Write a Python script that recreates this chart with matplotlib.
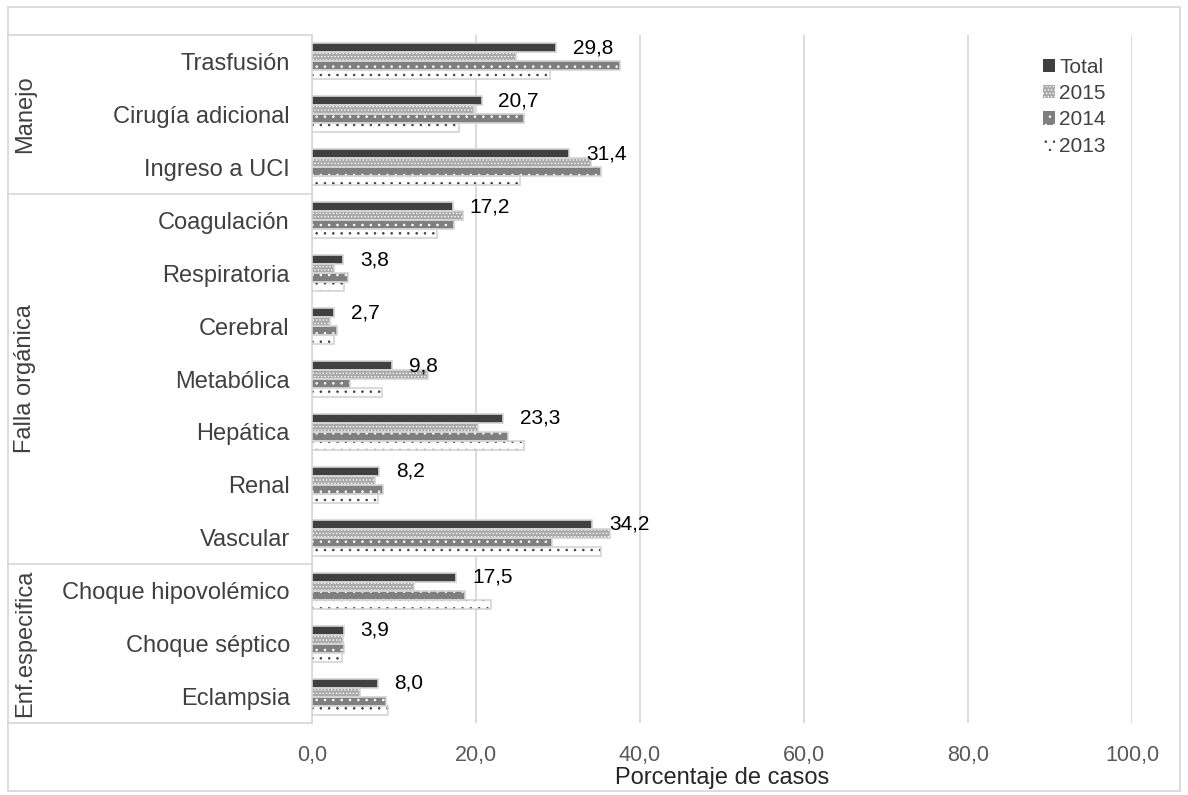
import matplotlib
matplotlib.use("Agg")
import matplotlib.pyplot as plt
import matplotlib.transforms as mtransforms
from matplotlib.patches import Rectangle, Patch
from matplotlib.lines import Line2D
from matplotlib.ticker import FuncFormatter
import numpy as np

plt.rcParams["font.family"] = ["Liberation Sans", "DejaVu Sans"]
plt.rcParams["hatch.linewidth"] = 0.6

# Categories (top to bottom) and their groups
categories = ["Trasfusión", "Cirugía adicional", "Ingreso a UCI",
              "Coagulación", "Respiratoria", "Cerebral", "Metabólica",
              "Hepática", "Renal", "Vascular",
              "Choque hipovolémico", "Choque séptico", "Eclampsia"]
groups = ["Manejo", "Falla orgánica", "Enf.especifica"]
group_sizes = [3, 7, 3]

# Percentages per series
total = [29.8, 20.7, 31.4, 17.2, 3.8, 2.7, 9.8, 23.3, 8.2, 34.2, 17.5, 3.9, 8.0]
y2015 = [24.9, 19.7, 34.0, 18.4, 2.7, 2.2, 14.2, 20.3, 7.7, 36.3, 12.4, 3.8, 5.8]
y2014 = [37.5, 25.9, 35.3, 17.3, 4.4, 3.1, 4.6, 23.9, 8.7, 29.3, 18.7, 3.9, 9.0]
y2013 = [29.0, 17.9, 25.4, 15.3, 3.9, 2.7, 8.5, 25.9, 8.0, 35.3, 21.8, 3.6, 9.3]

series_names = ["Total", "2015", "2014", "2013"]
series_values = [total, y2015, y2014, y2013]
xticks = [0, 20, 40, 60, 80, 100]

# Appearance of each series: face colour, hatch, hatch colour
styles = [
    ("#404040", None, "#404040"),
    ("#a9a9a9", ".....", "#ffffff"),
    ("#7f7f7f", "..", "#ffffff"),
    ("#ffffff", "..", "#404040"),
]
outline = "#d4d4d4"
grid_c = "#d9d9d9"

W, H = 1188, 795
fig = plt.figure(figsize=(W / 100, H / 100), dpi=100)
ax = fig.add_axes([312 / W, 1 - 723 / H, (1132 - 312) / W, (723 - 35) / H])

n = len(categories)
y = np.arange(n)
bar_h = 0.17
offsets = np.array([-1.5, -0.5, 0.5, 1.5]) * bar_h

for vals, off, (fc, hatch, hc) in zip(series_values, offsets, styles):
    ax.barh(y + off, vals, height=bar_h, color=fc, edgecolor=hc,
            linewidth=0, hatch=hatch, zorder=3)
    ax.barh(y + off, vals, height=bar_h, fill=False, edgecolor=outline,
            linewidth=1.2, zorder=4)

# Value labels for the Total series
for yi, v in zip(y, total):
    ax.annotate(f"{v:.1f}".replace(".", ","), xy=(v, yi + offsets[0]),
                xytext=(12, 0), textcoords="offset points",
                ha="left", va="center", fontsize=15, color="#000000",
                zorder=5)

ax.set_xlim(0, 100)
ax.set_ylim(n - 0.5, -0.5)
ax.set_xticks(xticks)
ax.xaxis.set_major_formatter(FuncFormatter(lambda v, p: f"{v:.1f}".replace(".", ",")))
ax.set_yticks(y)
ax.set_yticklabels(categories)
ax.tick_params(axis="x", length=0, pad=15.5, labelsize=15.5, labelcolor="#595959")
ax.tick_params(axis="y", length=0, pad=16, labelsize=17, labelcolor="#404040")
ax.grid(axis="x", color=grid_c, linewidth=1.3, zorder=0)
ax.set_axisbelow(True)
for s in ["top", "right", "bottom"]:
    ax.spines[s].set_visible(False)
ax.spines["left"].set_color(grid_c)
ax.spines["left"].set_linewidth(1.3)
ax.set_xlabel("Porcentaje de casos", fontsize=17, color="#262626", labelpad=1)

# Group boxes on the category axis
blend = mtransforms.blended_transform_factory(fig.transFigure, ax.transData)
x_left = 8 / W
x_right = 312 / W
bounds = np.concatenate([[0], np.cumsum(group_sizes)]) - 0.5
for b in bounds:
    ax.add_line(Line2D([x_left, x_right], [b, b], transform=blend,
                       color=grid_c, linewidth=1.3, clip_on=False))
for g, lo, hi in zip(groups, bounds[:-1], bounds[1:]):
    ax.text(25 / W, (lo + hi) / 2, g, transform=blend, rotation=90,
            ha="center", va="center", fontsize=17, color="#404040")

# Legend
handles = [Patch(facecolor=fc, edgecolor=hc if hatch else outline,
                 hatch=hatch, linewidth=0) for fc, hatch, hc in styles]
fig.legend(handles, series_names, loc="upper left",
           bbox_to_anchor=(1024 / W, 1 - 39 / H), frameon=False,
           fontsize=15, handlelength=0.6, handleheight=0.6,
           handletextpad=0.2, labelspacing=0.35, labelcolor="#404040")

# Outer frame
fig.add_artist(Rectangle((8 / W, 1 - 791 / H), (1180 - 8) / W, (791 - 7) / H,
                         transform=fig.transFigure, fill=False,
                         edgecolor=grid_c, linewidth=1.3))

fig.savefig("out.png", dpi=100)
